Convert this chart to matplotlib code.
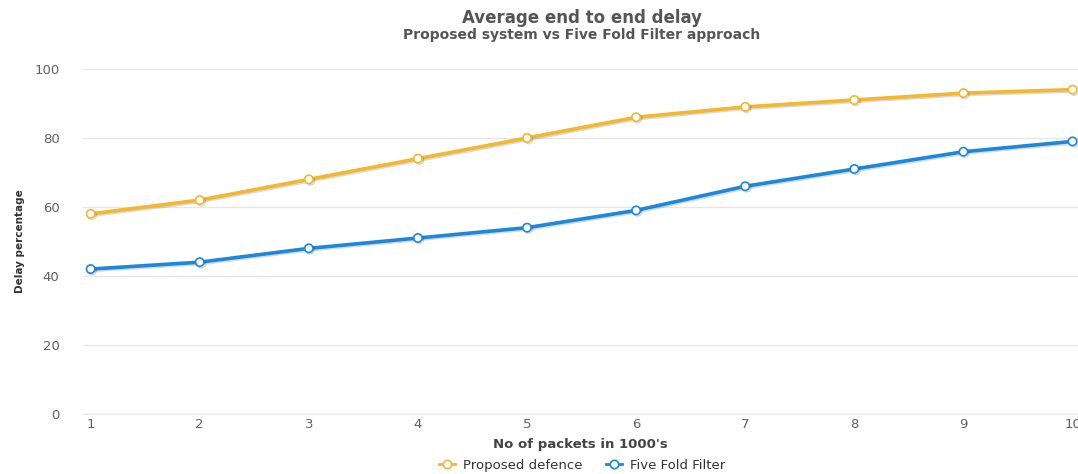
import matplotlib.pyplot as plt
import matplotlib.patheffects as pe
from matplotlib.lines import Line2D

packets = [1, 2, 3, 4, 5, 6, 7, 8, 9, 10]
proposed = [58, 62, 68, 74, 80, 86, 89, 91, 93, 94]
five_fold = [42, 44, 48, 51, 54, 59, 66, 71, 76, 79]
y_ticks = [0, 20, 40, 60, 80, 100]

orange = '#F2B82E'
blue = '#1C88DC'
grey_txt = '#555555'

fig = plt.figure(figsize=(10.78, 4.74), dpi=100)
ax = fig.add_axes([0.077, 0.1266, 0.923, 0.728])

shadow = [pe.SimpleLineShadow(offset=(1, -1), alpha=0.15, shadow_color='black'), pe.Normal()]
ax.plot(packets, proposed, color=orange, lw=2.6, marker='o', ms=6,
        mfc='white', mec=orange, mew=1.2, path_effects=shadow, zorder=3, clip_on=False)
ax.plot(packets, five_fold, color=blue, lw=2.6, marker='o', ms=6,
        mfc='white', mec=blue, mew=1.2, path_effects=shadow, zorder=3, clip_on=False)

ax.set_xlim(0.93, 10.05)
ax.set_ylim(0, 100)
ax.set_xticks(packets)
ax.set_yticks(y_ticks)
ax.tick_params(axis='both', length=0, labelsize=9.5, labelcolor='#606060')
ax.tick_params(axis='x', pad=3)
ax.tick_params(axis='y', pad=17)
ax.grid(axis='y', color='#E6E6E6', lw=1)
ax.set_axisbelow(True)
for s in ['top', 'right', 'left']:
    ax.spines[s].set_visible(False)
ax.spines['bottom'].set_color('#E6E6E6')

ax.set_xlabel("No of packets in 1000's", fontsize=9.5, fontweight='bold', color='#444444', labelpad=5)
ax.set_ylabel('Delay percentage', fontsize=7.5, fontweight='bold', color='#333333')
ax.yaxis.set_label_coords(-0.058, 0.5)

fig.text(0.54, 0.962, 'Average end to end delay', ha='center', va='center',
         fontsize=12, fontweight='bold', color=grey_txt)
fig.text(0.54, 0.926, 'Proposed system vs Five Fold Filter approach', ha='center', va='center',
         fontsize=10, fontweight='bold', color=grey_txt)

handles = [
    Line2D([], [], color=orange, lw=2, marker='o', ms=6, mfc='white', mec=orange, mew=1.2),
    Line2D([], [], color=blue, lw=2, marker='o', ms=6, mfc='white', mec=blue, mew=1.2),
]
fig.legend(handles, ['Proposed defence', 'Five Fold Filter'], loc='lower center',
           bbox_to_anchor=(0.54, -0.02), ncol=2, frameon=False, fontsize=9.5,
           labelcolor='#333333', handlelength=1.2, columnspacing=1.8, handletextpad=0.6)

fig.savefig('out.png', dpi=100)
